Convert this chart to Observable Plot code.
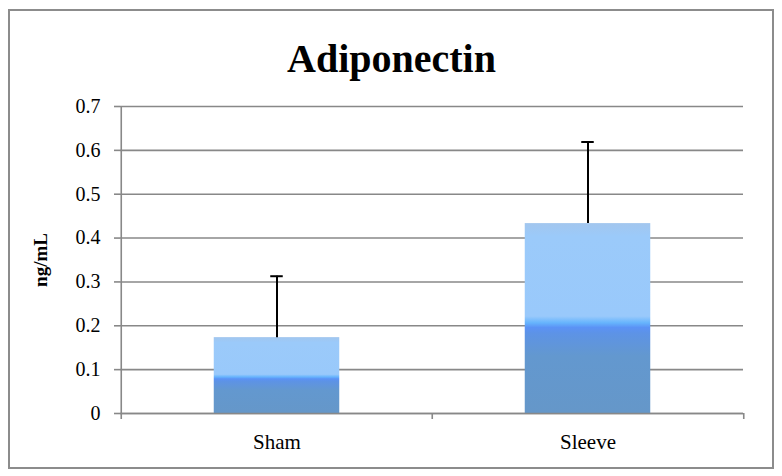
<!DOCTYPE html>
<html>
<head>
<meta charset="utf-8">
<script src="https://cdn.jsdelivr.net/npm/d3@7"></script>
<script src="https://cdn.jsdelivr.net/npm/@observablehq/plot@0.6"></script>
<style>
  html, body { margin: 0; padding: 0; background: #fff; }
  #wrap { position: relative; width: 782px; height: 476px; }
  #border { position: absolute; left: 8px; top: 9px; width: 762px; height: 456px; border: 2px solid #8c8c8c; pointer-events: none; }
  #chart { position: absolute; left: 0; top: 0; }
</style>
</head>
<body>
<div id="wrap"><div id="chart"></div><div id="border"></div></div>
<script>
const title = "Adiponectin";
const yLabel = "ng/mL";
const groups = ["Sham", "Sleeve"];
const means = [0.173, 0.433];
const errors = [0.140, 0.186];
const yTicks = [0, 0.1, 0.2, 0.3, 0.4, 0.5, 0.6, 0.7];

const data = groups.map((g, i) => ({group: g, mean: means[i], upper: means[i] + errors[i]}));

const W = 782, H = 476;
const mL = 120, mR = 39, mT = 106, mB = 63;
const step = (W - mL - mR) / groups.length;
const barInset = (step - 126) / 2;
const capInset = (step - 13) / 2;
const font = "'Liberation Serif', 'Times New Roman', serif";
const gridColor = "#888888";

const chart = Plot.plot({
  width: W,
  height: H,
  marginLeft: mL,
  marginRight: mR,
  marginTop: mT,
  marginBottom: mB,
  style: {fontFamily: font, fontSize: "19px", color: "#000", background: "transparent"},
  x: {domain: groups, padding: 0, label: null},
  y: {domain: [0, 0.7], label: null},
  marks: [
    Plot.gridY(yTicks, {stroke: gridColor, strokeOpacity: 1, strokeWidth: 1.6}),
    Plot.barY(data, {x: "group", y: "mean", fill: "url(#adipoGrad)", insetLeft: barInset, insetRight: barInset}),
    Plot.ruleX(data, {x: "group", y1: "mean", y2: "upper", stroke: "#000", strokeWidth: 2}),
    Plot.tickY(data, {x: "group", y: "upper", stroke: "#000", strokeWidth: 2, insetLeft: capInset, insetRight: capInset}),
    // y axis line
    Plot.ruleX([groups[0]], {x: d => d, y1: 0, y2: 0.7, dx: -step / 2, stroke: gridColor, strokeWidth: 1.6}),
    // x axis baseline
    Plot.ruleY([0], {stroke: gridColor, strokeWidth: 1.6}),
    // x category boundary ticks
    Plot.ruleX(groups, {x: d => d, y1: 0, y2: 0, dx: -step / 2, insetBottom: -6, stroke: gridColor, strokeWidth: 1.6}),
    Plot.ruleX([groups[groups.length - 1]], {x: d => d, y1: 0, y2: 0, dx: step / 2, insetBottom: -6, stroke: gridColor, strokeWidth: 1.6}),
    Plot.axisY(yTicks, {
      tickSize: 6, tickPadding: 14, stroke: gridColor, strokeWidth: 1.6, strokeOpacity: 1,
      tickFormat: d => d === 0 ? "0" : d.toFixed(1), fontSize: 20, label: null
    }),
    Plot.axisX({tickSize: 0, tickPadding: 21, fontSize: 21, label: null}),
    Plot.text([yLabel], {frameAnchor: "left", textAnchor: "middle", dx: -80, rotate: -90, fontSize: 19, fontWeight: "bold", fill: "#000"}),
    Plot.text([title], {frameAnchor: "top", dx: (W / 2) - (mL + (W - mL - mR) / 2), dy: -63, fontSize: 40, fontWeight: "bold", fill: "#000"})
  ]
});

const defs = `
<defs>
  <linearGradient id="adipoGrad" x1="0" y1="1" x2="0" y2="0">
    <stop offset="0" stop-color="#6597c9"/>
    <stop offset="0.30" stop-color="#6398cf"/>
    <stop offset="0.42" stop-color="#5d93e6"/>
    <stop offset="0.45" stop-color="#5b92f5"/>
    <stop offset="0.475" stop-color="#66b4fd"/>
    <stop offset="0.51" stop-color="#99c9fb"/>
    <stop offset="0.93" stop-color="#9bcafa"/>
    <stop offset="1" stop-color="#a2c6ee"/>
  </linearGradient>
</defs>`;
chart.insertAdjacentHTML("afterbegin", defs);
document.getElementById("chart").appendChild(chart);
</script>
</body>
</html>
